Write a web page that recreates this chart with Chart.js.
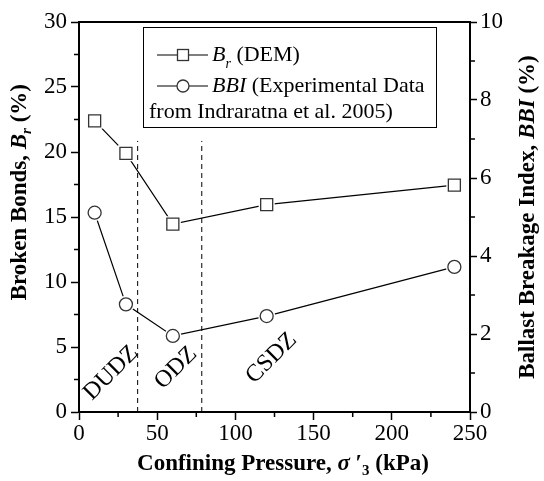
<!DOCTYPE html>
<html><head><meta charset="utf-8">
<script src="https://cdn.jsdelivr.net/npm/chart.js@4.4.0/dist/chart.umd.min.js"></script>
<style>html,body{margin:0;padding:0;background:#fff}canvas{display:block}</style>
</head><body>
<canvas id="c" width="544" height="481"></canvas>
<script>
// ---- data ----
const pressure = [10, 30, 60, 120, 240];               // kPa
const brokenBonds = [22.4, 19.9, 14.45, 15.95, 17.45]; // Br (%)
const bbi = [5.11, 2.76, 1.95, 2.46, 3.72];            // BBI (%)
const zoneBoundaries = [37.5, 78.5];                   // kPa
const boundaryTop = 20.85;                             // Br (%)
const zoneLabels = ['DUDZ', 'ODZ', 'CSDZ'];
const xTicks = [0, 50, 100, 150, 200, 250];
const yTicks = [0, 5, 10, 15, 20, 25, 30];
const y2Ticks = [0, 2, 4, 6, 8, 10];
const xMinor = [25, 75, 125, 175, 225];
const yMinor = [2.5, 7.5, 12.5, 17.5, 22.5, 27.5];
const y2Minor = [1, 3, 5, 7, 9];

const SERIF = '"Liberation Serif", "Times New Roman", serif';
const pts = (xs, ys) => xs.map((x, i) => ({ x: x, y: ys[i] }));

const zoneAnchors = [[20.5, 3.0], [62, 3.4], [123, 4.15]]; // label centres in (kPa, Br%)

function drawRich(ctx, parts, x, y, align) {
  let total = 0;
  parts.forEach(p => { ctx.font = p.font; p.w = ctx.measureText(p.text).width; total += p.w; });
  let cx = align === 'center' ? x - total / 2 : (align === 'right' ? x - total : x);
  ctx.textBaseline = 'middle';
  ctx.textAlign = 'left';
  parts.forEach(p => { ctx.font = p.font; ctx.fillText(p.text, cx, y + (p.dy || 0)); cx += p.w; });
}

const decor = {
  id: 'decor',
  afterDraw(chart) {
    const ctx = chart.ctx;
    const a = chart.chartArea;
    const sx = chart.scales.x, sy = chart.scales.y, sy2 = chart.scales.y2;
    ctx.save();
    ctx.fillStyle = '#000';
    ctx.strokeStyle = '#000';
    // top frame line
    ctx.lineWidth = 2;
    ctx.beginPath(); ctx.moveTo(a.left - 1, a.top); ctx.lineTo(a.right + 1, a.top); ctx.stroke();
    // minor ticks
    ctx.lineWidth = 1.5;
    ctx.beginPath();
    xMinor.forEach(v => { const p = sx.getPixelForValue(v); ctx.moveTo(p, a.bottom); ctx.lineTo(p, a.bottom + 5); });
    yMinor.forEach(v => { const p = sy.getPixelForValue(v); ctx.moveTo(a.left, p); ctx.lineTo(a.left - 5, p); });
    y2Minor.forEach(v => { const p = sy2.getPixelForValue(v); ctx.moveTo(a.right, p); ctx.lineTo(a.right + 5, p); });
    ctx.stroke();

    // zone labels
    ctx.font = '24px ' + SERIF;
    ctx.textAlign = 'center'; ctx.textBaseline = 'middle';
    zoneLabels.forEach((t, i) => {
      const px = sx.getPixelForValue(zoneAnchors[i][0]);
      const py = sy.getPixelForValue(zoneAnchors[i][1]);
      ctx.save(); ctx.translate(px, py); ctx.rotate(-Math.PI / 4); ctx.fillText(t, 0, 0); ctx.restore();
    });

    // axis titles
    const B = 'bold 23px ' + SERIF, BI = 'italic bold 23px ' + SERIF, BIs = 'italic bold 15px ' + SERIF, Bs = 'bold 15px ' + SERIF;
    drawRich(ctx, [
      { text: 'Confining Pressure, ', font: B },
      { text: 'σ', font: BI },
      { text: ' \u2032', font: B },
      { text: '3', font: Bs, dy: 7 },
      { text: ' (kPa)', font: B }
    ], 283, 464, 'center');

    ctx.save(); ctx.translate(20, 84); ctx.rotate(-Math.PI / 2);
    drawRich(ctx, [
      { text: 'Broken Bonds, ', font: B },
      { text: 'B', font: BI },
      { text: 'r', font: BIs, dy: 7 },
      { text: ' (%)', font: B }
    ], 0, 0, 'right');
    ctx.restore();

    ctx.save(); ctx.translate(528, (a.top + a.bottom) / 2); ctx.rotate(-Math.PI / 2);
    drawRich(ctx, [
      { text: 'Ballast Breakage Index, ', font: B },
      { text: 'BBI', font: BI },
      { text: ' (%)', font: B }
    ], 0, 0, 'center');
    ctx.restore();

    // legend
    const L = 143.5, R = 436.5, T = 27.5, Bt = 127.5;
    ctx.fillStyle = '#fff';
    ctx.fillRect(L, T, R - L, Bt - T);
    ctx.lineWidth = 1;
    ctx.strokeRect(L, T, R - L, Bt - T);
    ctx.fillStyle = '#000';
    const N = '22px ' + SERIF, I = 'italic 22px ' + SERIF, Is = 'italic 14px ' + SERIF;
    const rows = [55, 86, 112];
    ctx.lineWidth = 1.2; ctx.strokeStyle = '#000';
    [0, 1].forEach(r => {
      ctx.beginPath();
      ctx.moveTo(157, rows[r]); ctx.lineTo(177, rows[r]);
      ctx.moveTo(189, rows[r]); ctx.lineTo(208, rows[r]);
      ctx.stroke();
    });
    ctx.strokeStyle = '#333'; ctx.lineWidth = 1.3;
    ctx.strokeRect(177.5, rows[0] - 5.5, 11, 11);
    ctx.beginPath(); ctx.arc(183, rows[1], 6, 0, Math.PI * 2); ctx.stroke();
    ctx.fillStyle = '#000';
    drawRich(ctx, [
      { text: 'B', font: I },
      { text: 'r', font: Is, dy: 9 },
      { text: ' (DEM)', font: N }
    ], 212, rows[0], 'left');
    drawRich(ctx, [
      { text: 'BBI', font: I },
      { text: ' (Experimental Data', font: N }
    ], 212, rows[1], 'left');
    drawRich(ctx, [{ text: 'from Indraratna et al. 2005)', font: N }], 149, rows[2], 'left');
    ctx.restore();
  }
};

const lineStyle = { borderColor: '#000', borderWidth: 1.2, pointRadius: 0, fill: false, tension: 0 };
const datasets = [
  Object.assign({ label: 'Br line', data: pts(pressure, brokenBonds), yAxisID: 'y', order: 10 }, lineStyle),
  Object.assign({ label: 'BBI line', data: pts(pressure, bbi), yAxisID: 'y2', order: 10 }, lineStyle),
  { label: 'Br halo', data: pts(pressure, brokenBonds), yAxisID: 'y', showLine: false, pointStyle: 'rect',
    pointRadius: 8.5, pointBorderWidth: 4, pointBorderColor: '#fff', pointBackgroundColor: '#fff', order: 5 },
  { label: 'BBI halo', data: pts(pressure, bbi), yAxisID: 'y2', showLine: false, pointStyle: 'circle',
    pointRadius: 6.5, pointBorderWidth: 4, pointBorderColor: '#fff', pointBackgroundColor: '#fff', order: 5 },
  { label: 'Br', data: pts(pressure, brokenBonds), yAxisID: 'y', showLine: false, pointStyle: 'rect',
    pointRadius: 8.5, pointBorderWidth: 1.3, pointBorderColor: '#333', pointBackgroundColor: '#fff', order: 1 },
  { label: 'BBI', data: pts(pressure, bbi), yAxisID: 'y2', showLine: false, pointStyle: 'circle',
    pointRadius: 6.5, pointBorderWidth: 1.3, pointBorderColor: '#333', pointBackgroundColor: '#fff', order: 1 }
];
zoneBoundaries.forEach((b, i) => datasets.push({
  label: 'boundary ' + i, data: [{ x: b, y: 0 }, { x: b, y: boundaryTop }], yAxisID: 'y',
  borderColor: '#000', borderWidth: 1, borderDash: [5, 4], pointRadius: 0, order: 20
}));

const tickFont = { family: SERIF, size: 23 };
function axis(extra, tl) {
  return Object.assign({
    type: 'linear',
    grid: { display: true, drawOnChartArea: false, drawTicks: true, tickLength: tl, tickWidth: 1.5, tickColor: '#000' },
    border: { display: true, color: '#000', width: 2 },
  }, extra);
}

new Chart(document.getElementById('c'), {
  type: 'line',
  data: { datasets: datasets },
  options: {
    responsive: false, animation: false, events: [],
    layout: { padding: { top: 22, left: 0, right: 0, bottom: 0 } },
    plugins: { legend: { display: false }, tooltip: { enabled: false } },
    scales: {
      x: axis({ position: 'bottom', min: 0, max: 250,
        afterBuildTicks: s => { s.ticks = xTicks.map(v => ({ value: v })); },
        ticks: { font: tickFont, color: '#000', padding: 0, maxRotation: 0, autoSkip: false },
        afterFit: s => { s.height = 69; } }, 8),
      y: axis({ position: 'left', min: 0, max: 30,
        afterBuildTicks: s => { s.ticks = yTicks.map(v => ({ value: v })); },
        ticks: { font: tickFont, color: '#000', padding: 4, autoSkip: false },
        afterFit: s => { s.width = 79; } }, 8),
      y2: axis({ position: 'right', min: 0, max: 10,
        afterBuildTicks: s => { s.ticks = y2Ticks.map(v => ({ value: v })); },
        ticks: { font: tickFont, color: '#000', padding: 3, autoSkip: false },
        afterFit: s => { s.width = 74; } }, 7)
    }
  },
  plugins: [decor]
});
</script>
</body></html>
